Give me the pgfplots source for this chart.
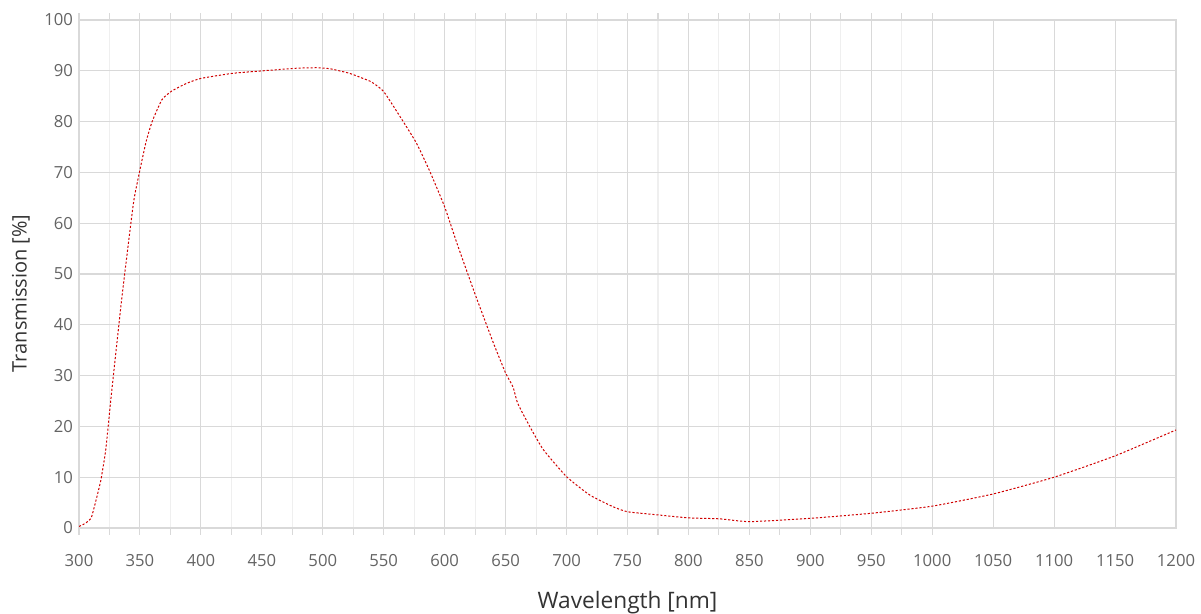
\documentclass[border=0pt]{standalone}
\usepackage{fontspec}
\setmainfont{Open Sans}
\usepackage{pgfplots}
\pgfplotsset{compat=1.18}

\definecolor{tickgray}{HTML}{646464}
\definecolor{labelgray}{HTML}{333333}
\definecolor{gridmajor}{HTML}{D9D9D9}
\definecolor{gridminor}{HTML}{EFEFEF}
\definecolor{curvered}{HTML}{D00000}

\begin{document}
\begin{tikzpicture}
\begin{axis}[
    scale only axis,
    width=822.75pt, height=381pt,
    xmin=300, xmax=1200, ymin=0, ymax=100,
    xtick={300,350,...,1200},
    ytick={0,10,...,100},
    minor xtick={300,325,...,1000},
    major tick length=0pt,
    minor tick length=5pt,
    tick align=outside,
    tick style={draw=gridmajor, line width=0.8pt},
    xmajorgrids, ymajorgrids, xminorgrids,
    major grid style={draw=gridmajor, line width=0.8pt},
    minor grid style={draw=gridminor, line width=0.8pt},
    axis line style={draw=gridmajor, line width=0.8pt},
    /pgf/number format/assume math mode=true,
    /pgf/number format/1000 sep={},
    ticklabel style={font=\fontsize{12.5}{14}\selectfont, text=tickgray},
    xticklabel style={yshift=-16pt},
    yticklabel style={xshift=-1pt},
    xlabel={Wavelength [nm]},
    ylabel={Transmission [\%]},
    label style={text=labelgray},
    xlabel style={font=\fontsize{17}{20}\selectfont, yshift=-12pt},
    ylabel style={font=\fontsize{15}{18}\selectfont, at={(ticklabel cs:0.462)}, yshift=4pt},
]
\addplot[curvered, line width=0.75pt, dash pattern=on 1.6pt off 1.4pt, smooth, tension=0.3]
coordinates {
(300,0.3) (305,0.9) (310,2) (314,5.5) (318,9.5) (322,15.5) (326,25)
(330,34) (335,45) (340,55) (345,64.5) (350,70.5) (355,76) (360,80)
(368,84.3) (376,86) (388,87.5) (400,88.5) (426,89.5) (451,90) (478,90.5)
(495,90.6) (506,90.4) (522,89.5) (533,88.5) (540,87.8) (550,85.9)
(566,80) (577,75.7) (588,70.1) (600,63.2) (611,55.4) (625,46) (640,36.4)
(650,30.5) (656,27.8) (660,24.5) (670,19.9) (681,15.4) (700,10.1)
(719,6.5) (738,4.2) (750,3.2) (774,2.6) (800,2.0) (826,1.8) (850,1.25)
(900,1.9) (950,2.9) (1000,4.3) (1050,6.7) (1100,10) (1150,14.2) (1200,19.3)
};
\end{axis}
\pgfresetboundingbox
\useasboundingbox ([xshift=-59.25pt,yshift=-63.75pt]current axis.south west)
  rectangle ([xshift=18.75pt,yshift=15pt]current axis.north east);
\end{tikzpicture}
\end{document}
